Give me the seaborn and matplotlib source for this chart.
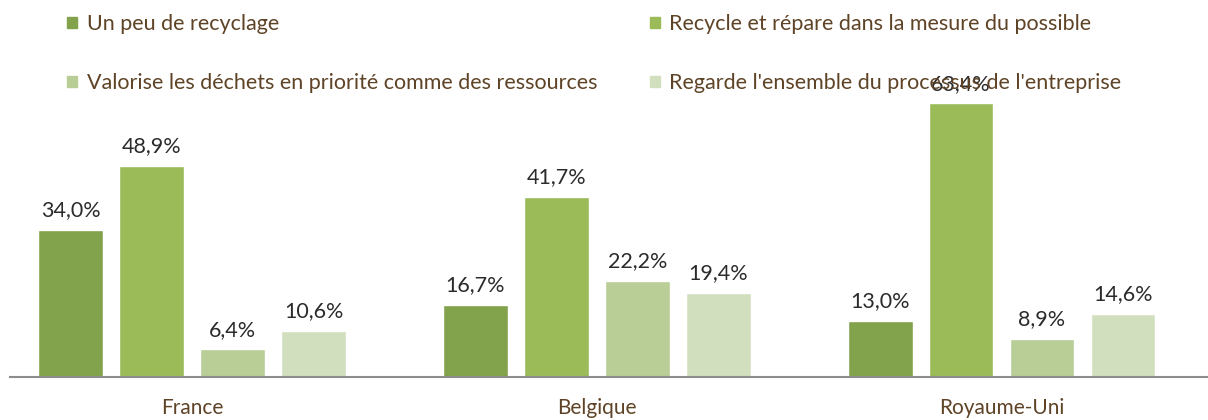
import pandas as pd
import matplotlib.pyplot as plt
import seaborn as sns
from matplotlib.patches import Patch

# Data
countries = ["France", "Belgique", "Royaume-Uni"]
series = [
    "Un peu de recyclage",
    "Recycle et répare dans la mesure du possible",
    "Valorise les déchets en priorité comme des ressources",
    "Regarde l'ensemble du processus de l'entreprise",
]
peu_recyclage = [34.0, 16.7, 13.0]
recycle_repare = [48.9, 41.7, 63.4]
valorise = [6.4, 22.2, 8.9]
ensemble = [10.6, 19.4, 14.6]
colors = ["#82a24c", "#9bbb59", "#b9cd97", "#d2dfbe"]

values = [peu_recyclage, recycle_repare, valorise, ensemble]
rows = []
for s, vals in zip(series, values):
    for c, v in zip(countries, vals):
        rows.append({"Pays": c, "Réponse": s, "Valeur": v})
df = pd.DataFrame(rows)

sns.set_style("white")
plt.rcParams["font.family"] = ["Lato", "DejaVu Sans"]

brown = "#5e4326"
fs = 15.5

fig = plt.figure(figsize=(12.08, 4.2), dpi=100)
ax = fig.add_axes([10 / 1208, 43 / 420, 1198 / 1208, 302 / 420])

sns.barplot(data=df, x="Pays", y="Valeur", hue="Réponse", hue_order=series,
            order=countries, palette=colors, gap=0.2, width=0.8,
            saturation=1, legend=False, ax=ax)

for cont in ax.containers:
    labels = [f"{b.get_height():.1f}%".replace(".", ",") for b in cont]
    ax.bar_label(cont, labels=labels, padding=7, fontsize=fs, color="#2b2b2b")

ax.set_xlim(-0.45, 2.51)
ax.set_ylim(0, 70)
ax.set_xlabel("")
ax.set_ylabel("")
ax.set_yticks([])
ax.tick_params(axis="x", length=0, pad=15, labelsize=fs - 0.5, labelcolor=brown)
for side in ["top", "right", "left"]:
    ax.spines[side].set_visible(False)
ax.spines["bottom"].set_color("#8c8c8c")
ax.spines["bottom"].set_linewidth(1.5)

handles = [Patch(color=c) for c in colors]
order = [0, 2, 1, 3]
leg = fig.legend([handles[i] for i in order], [series[i] for i in order],
                 ncol=2, loc="upper left", bbox_to_anchor=(48 / 1208, 1 + 5 / 420),
                 frameon=False, fontsize=fs, handlelength=0.45,
                 handleheight=0.45, handletextpad=0.45, labelspacing=1.8,
                 columnspacing=2.45)
for t in leg.get_texts():
    t.set_color(brown)

fig.savefig("out.png", dpi=100)
